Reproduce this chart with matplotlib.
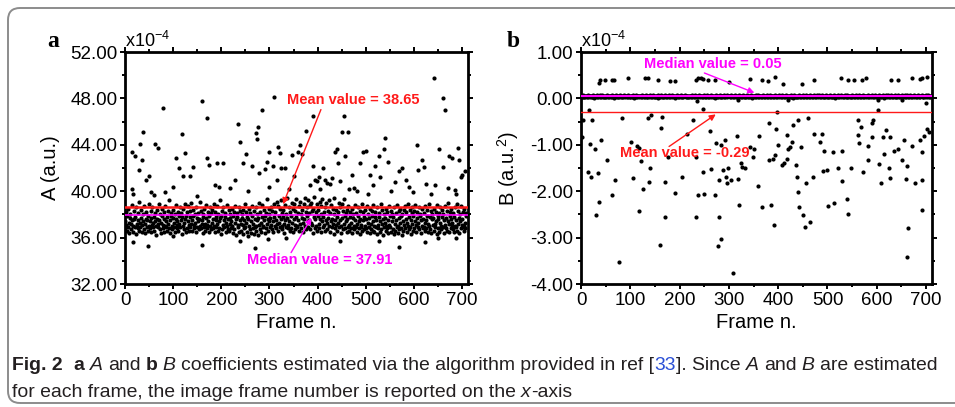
import matplotlib
matplotlib.use("Agg")
import matplotlib.pyplot as plt
import numpy as np
from matplotlib.patches import FancyBboxPatch
from matplotlib.transforms import IdentityTransform
from matplotlib.ticker import FormatStrFormatter, MultipleLocator

plt.rcParams["font.family"] = ["Liberation Sans", "DejaVu Sans"]
plt.rcParams["mathtext.default"] = "regular"

# ---- panel a: A coefficient (x1e-4), one value per frame (main band)
a_band = np.array("""
37.4 36.8 38.2 37.1 36.6 37.9 38.5 36.9 37.3 36.4 37.7 38.0 36.7 37.2 38.8 37.5 36.5 37.0 38.3 37.6
36.9 37.8 36.3 38.6 37.2 37.0 36.8 38.1 37.5 36.6 39.1 37.3 36.9 38.4 37.7 36.5 37.1 38.0 37.4 36.7
38.7 37.2 36.4 37.6 38.2 36.9 37.5 37.9 36.6 38.9 37.0 36.8 37.4 38.3 36.5 37.7 38.6 37.1 36.9 37.3
37.8 36.6 38.1 37.4 36.2 37.0 38.4 37.6 36.9 37.2 38.9 37.5 36.7 38.0 37.3 36.4 37.9 38.5 37.1 36.8
37.6 38.2 36.5 37.0 38.7 37.4 36.9 37.8 36.6 38.3 37.2 36.8 39.2 37.5 36.4 37.9 38.1 37.0 36.7 37.7
38.4 36.9 37.3 38.0 36.5 37.6 38.8 37.1 36.8 37.4 38.2 36.6 37.9 37.2 38.6 36.9 37.5 38.1 36.3 37.8
37.0 38.5 36.7 37.3 38.9 37.6 36.5 37.9 38.2 36.8 37.4 38.7 37.1 36.6 37.8 38.3 36.9 37.2 39.0 37.5
36.6 37.9 38.4 37.1 36.8 38.0 37.3 36.5 38.6 37.7 36.9 37.4 38.1 36.7 37.6 39.1 37.0 36.8 38.3 37.2
37.5 36.4 38.0 37.8 36.9 38.5 37.2 36.6 37.7 38.8 37.1 36.8 38.2 37.4 36.5 37.9 38.6 37.0 36.7 38.1
37.3 38.4 36.8 37.6 38.9 37.0 36.5 38.2 37.5 36.9 37.8 38.7 37.2 36.6 38.0 37.4 36.8 39.2 37.7 36.3
37.9 38.3 36.7 37.1 38.6 37.5 36.9 37.8 38.1 36.5 37.3 38.8 37.0 36.7 37.6 38.4 36.6 37.2 38.0 37.7
36.8 37.4 38.5 37.0 36.4 37.9 38.2 36.7 37.3 38.7 37.6 36.2 37.8 38.1 36.9 37.1 38.6 36.5 37.5 38.3
37.2 36.6 38.0 37.7 36.3 38.4 37.1 36.8 37.5 38.9 36.9 37.3 38.2 36.5 37.8 36.1 37.6 38.5 37.0 36.7
38.1 37.4 36.4 37.9 38.7 36.8 37.2 36.3 38.3 37.6 36.9 37.0 38.6 36.6 37.5 38.0 36.2 37.7 39.0 37.1
36.7 38.2 37.3 36.5 37.8 38.8 37.0 36.9 38.4 37.5 36.4 37.9 38.1 36.8 37.2 39.3 37.6 36.6 38.5 37.4
38.0 36.9 37.7 38.6 37.1 36.7 38.3 37.4 36.5 38.9 37.8 37.0 38.2 36.8 37.5 39.1 37.2 36.6 38.7 37.9
37.3 38.5 36.9 37.6 39.2 37.0 38.1 36.7 37.8 38.4 37.2 36.4 38.8 37.5 36.9 38.0 37.7 39.4 36.8 37.1
38.6 37.4 36.6 38.2 37.9 36.8 39.0 37.3 38.5 36.5 37.6 38.9 37.1 36.7 38.3 37.8 39.3 37.0 36.9 38.1
37.5 38.7 36.6 37.2 39.1 38.0 36.8 37.7 38.4 37.3 36.5 38.9 37.6 39.4 37.0 38.2 36.7 37.9 38.6 37.4
39.2 36.9 38.1 37.5 38.8 36.7 37.3 39.0 38.3 37.1 36.4 38.5 37.8 39.5 36.8 37.6 38.2 37.0 38.9 36.6
37.9 38.4 37.2 36.8 39.1 37.6 38.0 36.5 38.7 37.4 39.3 36.9 37.8 38.2 37.1 36.6 38.6 37.5 39.0 37.3
36.7 38.3 37.7 39.2 37.0 36.5 38.1 37.4 38.8 36.9 37.6 38.5 37.2 36.3 38.0 39.4 37.5 36.8 38.4 37.1
37.8 36.6 38.2 37.3 39.0 36.9 37.5 38.6 37.0 36.4 38.9 37.7 36.7 38.3 37.2 39.3 36.8 37.9 38.1 37.4
36.5 38.4 37.6 36.9 38.7 37.1 36.6 37.8 38.2 36.8 37.3 38.5 36.4 37.7 38.0 37.0 36.7 38.8 37.5 36.9
38.1 37.2 36.5 37.9 38.6 36.8 37.4 36.3 38.3 37.6 36.9 37.1 38.9 36.6 37.5 38.2 36.7 37.8 38.4 37.0
36.8 37.6 38.7 36.5 37.3 38.0 36.9 37.7 36.4 38.5 37.2 36.7 37.9 38.3 36.6 37.4 38.8 37.0 36.5 37.8
38.2 36.9 37.5 36.3 38.6 37.1 36.8 37.8 38.1 36.5 37.4 38.9 36.7 37.2 38.4 36.2 37.6 38.0 36.9 37.3
37.7 38.5 36.6 37.0 38.2 36.8 37.5 36.4 38.7 37.1 36.9 37.9 38.3 36.5 37.4 38.0 36.7 37.8 36.3 38.6
37.2 36.6 38.1 37.5 36.9 38.8 37.0 36.4 37.7 38.3 36.7 37.3 38.5 36.8 37.9 36.2 38.0 37.4 36.6 38.4
37.1 38.7 36.8 37.6 38.2 36.5 37.3 38.9 37.0 36.7 37.8 38.4 36.9 37.5 36.3 38.1 37.2 38.6 36.6 37.9
38.3 36.8 37.4 38.8 37.1 36.5 37.7 38.2 36.9 37.3 38.6 36.7 37.9 38.0 36.4 37.5 38.5 37.0 36.8 37.6
36.9 38.1 37.3 36.6 38.7 37.5 36.8 37.9 38.4 36.5 37.2 38.9 37.0 36.7 37.8 38.3 36.4 37.6 38.0 37.1
37.7 36.6 38.5 37.2 36.9 38.2 37.4 36.3 38.8 37.6 36.8 37.9 38.1 36.5 37.3 38.6 37.0 36.7 38.4 37.8
36.9 38.0 37.5 36.4 38.7 37.1 36.8 37.7 38.3 36.6 37.4 39.0 37.2 36.5 37.9 38.2 36.8 37.6 38.5 37.0
37.3 36.7 38.1 37.8 36.5 38.6 37.0 36.9 37.5 38.9 36.6 37.2 38.3 37.7 36.4 38.0 37.4 36.8 38.7 37.1
37.6 36.9 38.2 37.0 36.6 38.5 37.3 36.8 37.9 38.1
""".split(), dtype=float)

# frames that fall outside the main band
a_out_x = [14, 14, 21, 17, 31, 29, 36, 38, 43, 50, 55, 62, 69, 78, 83, 99, 106, 113, 118, 120,
           125, 135, 142, 159, 170, 171, 175, 187, 191, 203, 217, 229, 234, 238, 246, 251, 263, 272,
           275, 277, 279, 284, 291, 295, 298, 300, 307, 310, 315, 317, 321, 324, 333, 347, 350, 359,
           364, 367, 376, 391, 390, 395, 402, 412, 416, 420, 437, 440, 443, 454, 450, 457, 464, 466,
           471, 482, 488, 494, 500, 509, 520, 527, 537, 540, 547, 561, 568, 575, 606, 608, 617, 620,
           641, 644, 652, 660, 661, 664, 672, 679, 688, 692, 694, 700, 706,
           60, 150, 195, 255, 340, 385, 398, 405, 425, 430, 447, 475, 505, 515, 530, 552, 583, 590,
           598, 625, 635, 670, 685, 698,
           17, 47, 100, 159, 239, 270, 296, 335, 447, 527, 568, 624, 649, 688]
a_out_y = [40.2, 43.4, 43.0, 39.8, 44.1, 41.8, 42.7, 45.1, 41.0, 41.3, 39.9, 44.1, 43.7, 47.2, 39.9,
           40.4, 42.9, 42.0, 44.9, 41.3, 43.3, 41.3, 42.1, 47.8, 46.3, 42.9, 42.3, 40.5, 42.4, 42.4,
           40.3, 41.0, 45.8, 44.2, 42.4, 43.2, 42.2, 45.0, 44.5, 45.5, 41.6, 47.0, 41.9, 42.5, 43.4,
           40.4, 42.2, 48.1, 41.0, 43.8, 43.3, 42.0, 42.0, 43.1, 41.3, 43.4, 44.0, 43.2, 45.2, 46.5,
           42.2, 41.0, 41.2, 42.0, 41.0, 40.7, 43.4, 43.6, 42.4, 46.5, 45.1, 43.0, 45.1, 40.2, 41.4,
           40.0, 42.4, 43.4, 43.5, 41.4, 42.2, 43.0, 43.6, 44.6, 42.5, 40.8, 41.7, 42.0, 44.0, 41.8,
           42.7, 42.1, 49.8, 40.5, 43.6, 48.0, 42.1, 47.0, 43.0, 42.9, 39.8, 43.7, 42.7, 41.4, 41.7,
           39.7, 39.6, 40.4, 40.0, 40.2, 40.5, 40.9, 40.2, 40.6, 41.1, 40.9, 40.3, 39.8, 40.5, 41.2,
           40.0, 41.0, 40.4, 39.9, 40.6, 39.8, 40.3, 40.1, 41.2,
           35.6, 35.3, 36.1, 35.4, 35.7, 35.1, 35.9, 36.0, 35.7, 35.7, 35.2, 35.6, 36.0, 36.0]
a_mean, a_median = 38.65, 37.91

# ---- panel b: B coefficient (x1e-4)
b_band = np.array("""
0.05 0.04 0.06 0.05 0.03 0.07 0.05 0.04 0.06 0.02 0.05 0.06 0.04 0.05 0.07 0.03 0.05 0.06 0.04 0.05
0.06 0.05 0.03 0.04 0.07 0.05 0.06 0.01 0.05 0.04 0.06 0.05 0.07 0.04 0.03 0.05 0.06 0.05 0.04 0.08
0.04 0.06 0.05 0.07 0.03 0.05 0.04 0.06 0.05 0.02 0.06 0.04 0.05 0.07 0.05 0.03 0.06 0.04 0.05 0.06
0.05 0.03 0.07 0.04 0.06 0.05 0.00 0.05 0.06 0.04 0.05 0.07 0.03 0.05 0.06 0.04 0.05 0.03 0.06 0.05
0.07 0.04 0.05 0.06 0.03 0.05 0.04 0.06 0.07 0.05 0.02 0.05 0.06 0.04 0.05 0.07 0.04 0.06 0.05 0.03
0.04 0.05 0.06 0.03 0.05 0.07 0.04 0.05 0.01 0.06 0.05 0.04 0.07 0.05 0.03 0.06 0.05 0.04 0.06 0.05
0.06 0.03 0.05 0.04 0.07 0.05 0.06 0.04 0.05 0.03 0.06 0.07 0.05 0.04 0.02 0.05 0.06 0.04 0.05 0.07
0.05 0.06 0.04 0.05 0.03 0.06 0.05 0.07 0.04 0.05 0.06 0.03 0.05 0.04 0.06 0.05 0.00 0.07 0.05 0.04
0.03 0.05 0.07 0.06 0.04 0.05 0.03 0.06 0.05 0.04 0.07 0.05 0.06 0.02 0.05 0.04 0.06 0.05 0.03 0.07
0.05 0.04 0.06 0.05 0.07 0.03 0.05 0.06 0.04 0.05 0.01 0.06 0.05 0.04 0.07 0.05 0.03 0.06 0.05 0.04
0.06 0.05 0.04 0.07 0.05 0.03 0.06 0.04 0.05 0.06 0.05 0.07 0.03 0.05 0.04 0.06 0.05 0.02 0.06 0.05
0.04 0.06 0.05 0.03 0.05 0.07 0.04 0.05 0.06 0.04 0.05 0.03 0.07 0.05 0.06 0.04 0.05 0.06 0.03 0.05
0.07 0.05 0.04 0.06 0.05 0.02 0.05 0.06 0.04 0.07 0.05 0.03 0.05 0.06 0.04 0.05 0.07 0.04 0.05 0.06
0.03 0.06 0.05 0.04 0.07 0.05 0.06 0.03 0.05 0.04 0.06 0.05 0.01 0.05 0.07 0.04 0.06 0.05 0.03 0.05
0.05 0.04 0.07 0.05 0.03 0.06 0.05 0.04 0.06 0.05 0.07 0.03 0.05 0.04 0.06 0.05 0.04 0.07 0.05 0.06
0.06 0.05 0.03 0.05 0.04 0.07 0.05 0.06 0.02 0.05 0.04 0.06 0.05 0.07 0.03 0.05 0.06 0.04 0.05 0.03
0.04 0.07 0.05 0.06 0.03 0.05 0.04 0.06 0.05 0.07 0.04 0.05 0.06 0.03 0.05 0.04 0.07 0.05 0.06 0.04
0.05 0.03 0.06 0.05 0.04 0.07 0.05 0.00 0.06 0.04 0.05 0.06 0.03 0.05 0.07 0.04 0.05 0.06 0.05 0.04
0.07 0.05 0.04 0.06 0.05 0.03 0.06 0.05 0.04 0.07 0.05 0.06 0.04 0.03 0.05 0.06 0.05 0.07 0.04 0.05
0.04 0.06 0.05 0.03 0.07 0.05 0.04 0.06 0.05 0.02 0.06 0.05 0.04 0.07 0.05 0.06 0.03 0.05 0.04 0.06
0.05 0.07 0.04 0.05 0.06 0.03 0.05 0.04 0.07 0.05 0.06 0.04 0.05 0.03 0.06 0.05 0.07 0.04 0.05 0.06
0.03 0.05 0.06 0.04 0.05 0.07 0.03 0.05 0.06 0.04 0.01 0.05 0.06 0.07 0.04 0.05 0.03 0.06 0.05 0.04
0.06 0.04 0.05 0.07 0.03 0.05 0.06 0.04 0.05 0.06 0.07 0.03 0.05 0.04 0.06 0.05 0.04 0.07 0.05 0.03
0.05 0.06 0.03 0.05 0.04 0.07 0.05 0.06 0.04 0.05 0.03 0.06 0.07 0.05 0.04 0.06 0.05 0.02 0.05 0.07
0.04 0.05 0.07 0.06 0.05 0.03 0.04 0.06 0.05 0.07 0.05 0.04 0.03 0.06 0.05 0.04 0.07 0.05 0.06 0.04
0.06 0.03 0.05 0.04 0.06 0.05 0.07 0.04 0.05 0.03 0.06 0.05 0.04 0.07 0.05 0.06 0.00 0.05 0.04 0.06
0.05 0.07 0.04 0.05 0.03 0.06 0.05 0.04 0.07 0.05 0.06 0.03 0.05 0.04 0.06 0.07 0.05 0.04 0.05 0.03
0.07 0.04 0.06 0.05 0.05 0.03 0.06 0.04 0.05 0.07 0.04 0.05 0.06 0.03 0.05 0.04 0.06 0.05 0.07 0.05
0.04 0.05 0.03 0.06 0.07 0.05 0.04 0.06 0.05 0.03 0.05 0.06 0.04 0.07 0.05 0.02 0.06 0.05 0.04 0.06
0.06 0.05 0.07 0.04 0.05 0.03 0.06 0.05 0.04 0.06 0.07 0.05 0.03 0.05 0.06 0.04 0.05 0.07 0.04 0.05
0.03 0.06 0.05 0.04 0.07 0.05 0.06 0.03 0.05 0.04 0.06 0.05 0.07 0.04 0.01 0.05 0.06 0.04 0.05 0.07
0.05 0.04 0.06 0.07 0.03 0.05 0.04 0.06 0.05 0.07 0.03 0.05 0.06 0.04 0.05 0.06 0.03 0.07 0.05 0.04
0.06 0.05 0.04 0.05 0.07 0.03 0.06 0.05 0.04 0.06 0.05 0.07 0.04 0.05 0.03 0.06 0.05 0.04 0.07 0.05
0.04 0.07 0.05 0.03 0.06 0.05 0.04 0.06 0.07 0.05 0.04 0.03 0.05 0.06 0.05 0.07 0.04 0.06 0.05 0.03
0.05 0.06 0.04 0.05 0.07 0.05 0.03 0.06 0.04 0.05 0.06 0.05 0.07 0.04 0.02 0.05 0.06 0.05 0.04 0.07
0.06 0.04 0.05 0.07 0.05 0.03 0.06 0.05 0.04 0.06
""".split(), dtype=float)

b_up_x = [37, 39, 49, 62, 66, 95, 130, 135, 156, 180, 191, 233, 237, 244, 247, 258, 272, 301, 343,
          367, 379, 393, 409, 448, 472, 527, 541, 554, 570, 578, 628, 644, 672, 687, 691, 701]
b_up_y = [0.33, 0.39, 0.39, 0.39, 0.40, 0.44, 0.45, 0.43, 0.40, 0.37, 0.38, 0.40, 0.43, 0.45, 0.41,
          0.39, 0.39, 0.35, 0.41, 0.40, 0.37, 0.46, 0.32, 0.32, 0.39, 0.43, 0.39, 0.39, 0.39, 0.45,
          0.39, 0.39, 0.43, 0.41, 0.44, 0.46]

b_low_x = [3, 1, 16, 23, 18, 14, 20, 28, 30, 35, 37, 41, 52, 62, 69, 77, 83, 101, 106, 113, 118,
           118, 122, 125, 135, 137, 142, 140, 164, 162, 160, 170, 170, 177, 191, 204, 216, 228, 233,
           233, 238, 248, 248, 250, 262, 264, 272, 273, 277, 279, 280, 284, 284, 289, 292, 294, 296,
           299, 304, 309, 316, 319, 321, 324, 326, 333, 343, 348, 350, 361, 360, 367, 381, 381, 385,
           389, 392, 394, 396, 397, 400, 407, 412, 417, 418, 420, 424, 427, 431, 436, 438, 440, 441,
           442, 446, 451, 454, 457, 461, 465, 471, 473, 485, 488, 490, 492, 499, 502, 512, 514, 522,
           529, 529, 539, 542, 548, 561, 561, 563, 569, 573, 583, 583, 590, 592, 590, 602, 605, 609,
           613, 615, 619, 624, 626, 627, 634, 643, 652, 655, 659, 661, 661, 664, 671, 678, 687, 691,
           692, 692, 696, 701, 706, 699, 235, 319, 420, 603, 651]
b_low_y = [-0.47, -0.84, -0.26, -0.46, -0.99, -1.58, -1.69, -1.08, -2.52, -1.60, -2.23, -0.89,
           -1.32, -2.08, -1.76, -3.52, -0.42, -0.94, -1.71, -1.03, -1.07, -2.43, -1.35, -1.96,
           -0.43, -1.80, -0.36, -1.51, -0.41, -0.64, -3.15, -1.80, -2.56, -1.27, -2.03, -1.69,
           -0.76, -0.47, -1.26, -2.55, -2.08, -0.22, -1.58, -2.05, -0.71, -1.53, -2.08, -0.97,
           -3.18, -2.55, -1.75, -1.01, -3.04, -1.55, -0.90, -1.69, -1.82, -1.51, -1.76, -3.76,
           -0.82, -1.74, -2.30, -1.39, -1.48, -1.51, -1.04, -1.26, -1.08, -0.82, -1.89, -2.34,
           -0.53, -1.32, -2.30, -1.30, -2.73, -1.22, -0.67, -0.29, -1.01, -1.44, -1.39, -0.79,
           -1.30, -1.08, -1.04, -0.94, -0.58, -1.44, -1.69, -2.01, -0.47, -2.34, -1.04, -2.52,
           -2.78, -1.82, -0.43, -2.66, -1.69, -0.77, -0.94, -0.77, -1.56, -1.13, -1.55, -2.32,
           -1.15, -2.25, -1.51, -1.78, -1.13, -2.16, -2.49, -1.50, -0.46, -0.79, -0.97, -0.61,
           -1.58, -1.03, -1.32, -0.53, -0.47, -0.83, -0.26, -1.42, -1.82, -0.84, -1.20, -0.69,
           -1.50, -0.84, -1.71, -1.13, -1.08, -1.32, -0.89, -1.74, -1.46, -3.41, -2.80, -1.03,
           -1.82, -0.89, -1.15, -2.41, -1.75, -0.82, -0.65, -0.72, -0.10, -0.06, -0.04, -0.03,
           -0.04, -0.04]
b_mean, b_median = -0.29, 0.05

RED, MAG = "#ff1a1a", "#ff00ff"

fig = plt.figure(figsize=(9.55, 4.07), dpi=100)

# rounded frame around the figure
fig.add_artist(FancyBboxPatch((8, 4), 960, 395, boxstyle="round,pad=0,rounding_size=12",
                              transform=IdentityTransform(), facecolor="none",
                              edgecolor="#8c8c8c", lw=1.4))

ax_a = fig.add_axes([0.1309, 0.3022, 0.359, 0.570])
ax_b = fig.add_axes([0.6084, 0.3022, 0.3675, 0.570])


def style_axes(ax, ylo, yhi, ystep, ylabel, letter, letter_x):
    ax.set_xlim(0, 712)
    ax.set_ylim(ylo, yhi)
    ax.xaxis.set_major_locator(MultipleLocator(100))
    ax.xaxis.set_minor_locator(MultipleLocator(50))
    ax.yaxis.set_major_locator(MultipleLocator(ystep))
    ax.yaxis.set_minor_locator(MultipleLocator(ystep / 2))
    ax.yaxis.set_major_formatter(FormatStrFormatter("%.2f"))
    ax.tick_params(which="both", direction="out", top=True, right=True, width=1.4,
                   labelsize=13.5, pad=2)
    ax.tick_params(which="major", length=3.5)
    ax.tick_params(which="minor", length=2)
    for sp in ax.spines.values():
        sp.set_linewidth(2)
    ax.set_xlabel("Frame n.", fontsize=14.5, labelpad=3)
    ax.set_ylabel(ylabel, fontsize=14.5, labelpad=7)
    ax.text(0.0, 1.005, r"x10$^{-4}$", transform=ax.transAxes, fontsize=13,
            ha="left", va="bottom")
    ax.text(letter_x, 1.022, letter, transform=ax.transAxes, fontsize=17, fontweight="bold",
            family="Liberation Serif", ha="left", va="baseline")


# panel a
ax_a.scatter(np.arange(len(a_band)), a_band, s=9, color="black", lw=0, zorder=2)
ax_a.scatter(a_out_x, a_out_y, s=9, color="black", lw=0, zorder=2)
ax_a.axhline(a_mean, color=RED, lw=1.8, zorder=3)
ax_a.axhline(a_median, color=MAG, lw=1.2, zorder=3)
style_axes(ax_a, 32, 52, 4, "A (a.u.)", "a", -0.228)
ax_a.text(336, 47.86, "Mean value = 38.65", color=RED, fontsize=10.5, fontweight="bold",
          va="center", zorder=4)
ax_a.annotate("", xy=(326, a_mean), xytext=(409, 47.26),
              arrowprops=dict(arrowstyle="-|>", color=RED, lw=1, mutation_scale=9), zorder=4)
ax_a.text(253, 34.07, "Median value = 37.91", color=MAG, fontsize=10.5, fontweight="bold",
          va="center", zorder=4)
ax_a.annotate("", xy=(390, a_median), xytext=(342, 34.5),
              arrowprops=dict(arrowstyle="-|>", color=MAG, lw=1, mutation_scale=9), zorder=4)

# panel b
ax_b.scatter(np.arange(len(b_band)), b_band, s=9, color="black", lw=0, zorder=2)
ax_b.scatter(b_up_x, b_up_y, s=9, color="black", lw=0, zorder=2)
ax_b.scatter(b_low_x, b_low_y, s=9, color="black", lw=0, zorder=2)
ax_b.axhline(b_mean, color=RED, lw=1.0, zorder=3)
ax_b.axhline(b_median, color=MAG, lw=1.5, zorder=3)
style_axes(ax_b, -4, 1, 1, r"B (a.u.$^{2}$)", "b", -0.212)
ax_b.text(128, 0.74, "Median value = 0.05", color=MAG, fontsize=10.5, fontweight="bold",
          va="center", zorder=4)
ax_b.annotate("", xy=(357, 0.1), xytext=(245, 0.57),
              arrowprops=dict(arrowstyle="-|>", color=MAG, lw=1, mutation_scale=9), zorder=4)
ax_b.text(79, -1.18, "Mean value = -0.29", color=RED, fontsize=10.5, fontweight="bold",
          va="center", zorder=4)
ax_b.annotate("", xy=(278, -0.31), xytext=(174, -1.07),
              arrowprops=dict(arrowstyle="-|>", color=RED, lw=1, mutation_scale=9), zorder=4)

# caption, drawn as consecutive styled runs
CAP_FONT = ["Liberation Sans Narrow", "Liberation Sans", "DejaVu Sans"]
CAP_COL, LINK = "#231f20", "#2a4fd6"
line1 = [("Fig. 2", "b", CAP_COL), ("  a", "b", CAP_COL), (" A", "i", CAP_COL),
         (" and ", "n", CAP_COL), ("b", "b", CAP_COL), (" B", "i", CAP_COL),
         (" coefficients estimated via the algorithm provided in ref [", "n", CAP_COL),
         ("33", "n", LINK), ("]. Since ", "n", CAP_COL), ("A", "i", CAP_COL),
         (" and ", "n", CAP_COL), ("B", "i", CAP_COL), (" are estimated", "n", CAP_COL)]
line2 = [("for each frame, the image frame number is reported on the ", "n", CAP_COL),
         ("x", "i", CAP_COL), ("-axis", "n", CAP_COL)]

renderer = fig.canvas.get_renderer()
W = fig.bbox.width


def draw_runs(x, y, runs, size):
    probe = fig.text(0, 0, "n n", fontsize=size, family=CAP_FONT)
    probe2 = fig.text(0, 0, "nn", fontsize=size, family=CAP_FONT)
    sp = (probe.get_window_extent(renderer).width - probe2.get_window_extent(renderer).width) / W
    probe.remove()
    probe2.remove()
    arts = []
    for s, st, col in runs:
        kw = dict(fontsize=size, family=CAP_FONT, color=col, va="baseline")
        if st == "b":
            kw["fontweight"] = "bold"
        if st == "i":
            kw["fontstyle"] = "italic"
        lead = len(s) - len(s.lstrip(" "))
        trail = len(s) - len(s.rstrip(" "))
        x += lead * sp
        t = fig.text(x, y, s.strip(), **kw)
        arts.append(t)
        x += t.get_window_extent(renderer).width / W + trail * sp
    return x, arts


x0 = 12 / W
end, arts = draw_runs(x0, 0.091, line1, 10)
for t in arts:
    t.remove()
cap_size = 10 * (931 / W) / (end - x0)
draw_runs(x0, 0.091, line1, cap_size)
draw_runs(x0, 0.0246, line2, cap_size)

fig.savefig("out.png", dpi=100)
